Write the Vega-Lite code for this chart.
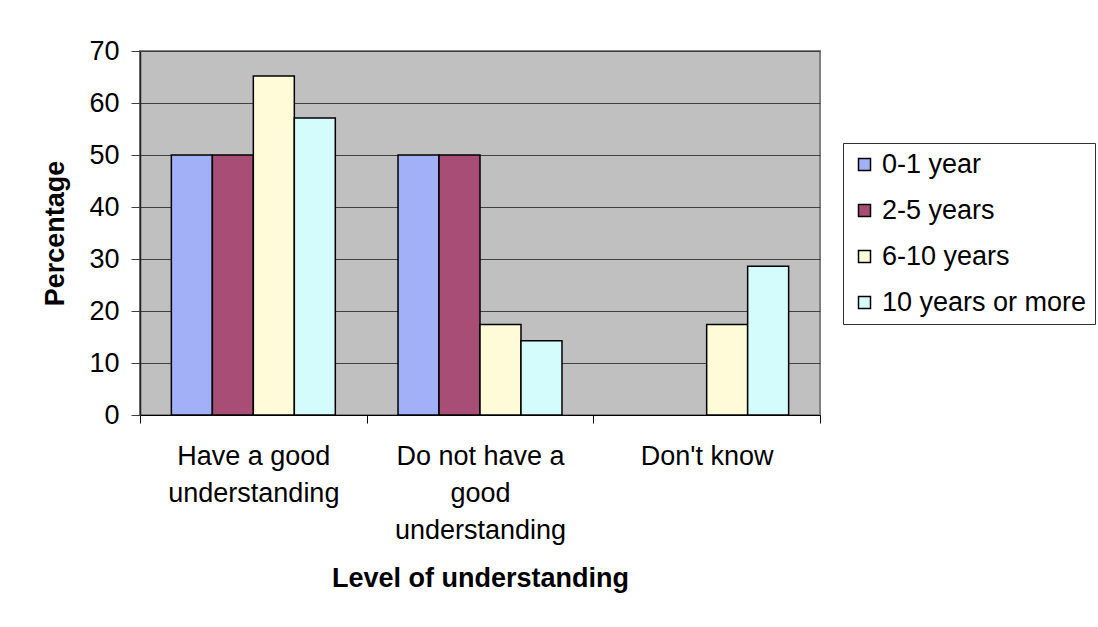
{
  "$schema": "https://vega.github.io/schema/vega-lite/v6.json",
  "width": 680,
  "height": 364,
  "autosize": {"type": "none"},
  "padding": {"left": 140, "top": 51, "right": 278, "bottom": 212},
  "background": "white",
  "config": {
    "font": "Liberation Sans",
    "view": {"fill": "#C0C0C0", "stroke": "#808080", "strokeWidth": 2}
  },
  "data": {
    "values": [
      {"level": "Have a good understanding", "group": "0-1 year", "value": 50},
      {"level": "Have a good understanding", "group": "2-5 years", "value": 50},
      {"level": "Have a good understanding", "group": "6-10 years", "value": 65.2},
      {"level": "Have a good understanding", "group": "10 years or more", "value": 57.1},
      {"level": "Do not have a good understanding", "group": "0-1 year", "value": 50},
      {"level": "Do not have a good understanding", "group": "2-5 years", "value": 50},
      {"level": "Do not have a good understanding", "group": "6-10 years", "value": 17.4},
      {"level": "Do not have a good understanding", "group": "10 years or more", "value": 14.3},
      {"level": "Don't know", "group": "6-10 years", "value": 17.4},
      {"level": "Don't know", "group": "10 years or more", "value": 28.6}
    ]
  },
  "mark": {"type": "bar", "stroke": "black", "strokeWidth": 1.5},
  "encoding": {
    "x": {
      "field": "level",
      "type": "nominal",
      "sort": ["Have a good understanding", "Do not have a good understanding", "Don't know"],
      "scale": {"paddingInner": 0, "paddingOuter": 0},
      "axis": {
        "title": "Level of understanding",
        "labelAngle": 0,
        "labelExpr": "datum.value == 'Have a good understanding' ? ['Have a good', 'understanding'] : datum.value == 'Do not have a good understanding' ? ['Do not have a', 'good', 'understanding'] : datum.value",
        "labelFontSize": 27,
        "labelLineHeight": 37,
        "labelColor": "black",
        "labelPadding": 20,
        "tickBand": "extent",
        "tickColor": "black",
        "tickSize": 8,
        "domainColor": "black",
        "titleFontSize": 27,
        "titleFontWeight": "bold",
        "titleColor": "black",
        "titlePadding": 22
      }
    },
    "xOffset": {
      "field": "group",
      "type": "nominal",
      "sort": ["0-1 year", "2-5 years", "6-10 years", "10 years or more"],
      "scale": {"domain": ["0-1 year", "2-5 years", "6-10 years", "10 years or more"], "paddingInner": 0, "paddingOuter": 0.765}
    },
    "y": {
      "field": "value",
      "type": "quantitative",
      "scale": {"domain": [0, 70], "nice": false},
      "axis": {
        "values": [0, 10, 20, 30, 40, 50, 60, 70],
        "title": "Percentage",
        "grid": true,
        "gridColor": "#404040",
        "gridWidth": 1,
        "labelFontSize": 27,
        "labelColor": "black",
        "labelPadding": 12,
        "tickColor": "#404040",
        "tickSize": 9,
        "domainColor": "#202020",
        "domainWidth": 1.5,
        "titleFontSize": 27,
        "titleFontWeight": "bold",
        "titleColor": "black",
        "titlePadding": 19
      }
    },
    "color": {
      "field": "group",
      "type": "nominal",
      "sort": ["0-1 year", "2-5 years", "6-10 years", "10 years or more"],
      "scale": {
        "domain": ["0-1 year", "2-5 years", "6-10 years", "10 years or more"],
        "range": ["#A2B0F8", "#A84D75", "#FFFBD8", "#D4FCFC"]
      },
      "legend": {
        "title": null,
        "orient": "none",
        "legendX": 703,
        "legendY": 92,
        "fillColor": "white",
        "strokeColor": "#303030",
        "padding": 8,
        "rowPadding": 18,
        "symbolType": "square",
        "symbolSize": 144,
        "symbolStrokeColor": "black",
        "symbolStrokeWidth": 1.5,
        "labelFontSize": 27,
        "labelLimit": 400,
        "labelColor": "black",
        "labelOffset": 4
      }
    }
  }
}
